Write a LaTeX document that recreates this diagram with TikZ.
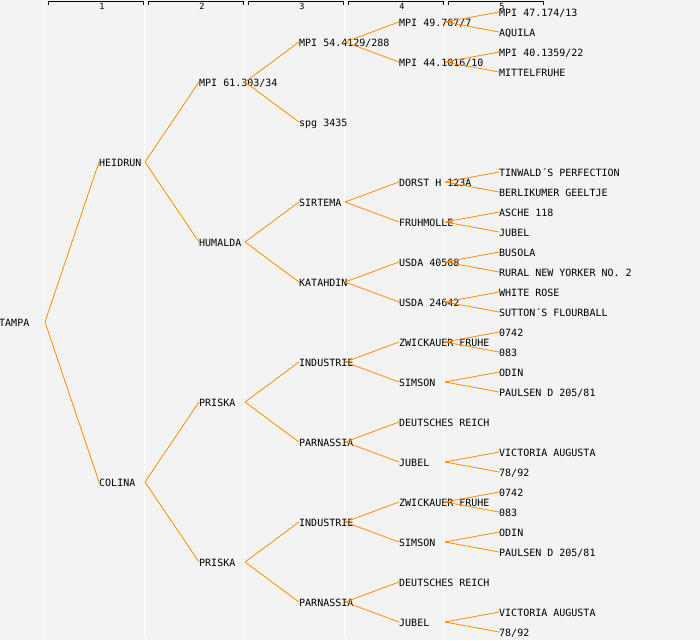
\documentclass[tikz,border=0pt]{standalone}
\usepackage{fontspec}
\setmonofont{DejaVu Sans Mono}
\usetikzlibrary{calc}
\definecolor{bgc}{HTML}{F3F3F3}
\definecolor{lnc}{HTML}{FF8C00}
\begin{document}
\begin{tikzpicture}[x=1pt,y=-1pt,
  tn/.style={anchor=west, inner sep=0pt, text height=8pt, text depth=0pt, font=\fontsize{10}{12}\selectfont\ttfamily},
  ed/.style={draw=lnc, line width=0.8pt},
  sep/.style={draw=white, line width=1.5pt},
  brk/.style={draw=black, line width=0.9pt},
  hdr/.style={inner sep=0pt, font=\fontsize{8.5}{9}\selectfont\ttfamily}]
\fill[bgc] (0,0) rectangle (700,640);
\useasboundingbox (0,0) rectangle (700,640);
% column separators
\foreach \x in {44.5,144.5,244.5,344.5,444.5} \draw[sep] (\x,0) -- (\x,637);
% ruler
\foreach \k in {0,...,4} {
  \pgfmathtruncatemacro{\lab}{\k+1}
  \draw[brk] (48+100*\k,5) -- (48+100*\k,1.5) -- (143+100*\k,1.5) -- (143+100*\k,5);
  \node[hdr] (h\lab) at (102+100*\k,6.3) {\lab};
}
% generation 0-1
\node[tn] (t0) at (-1,322) {TAMPA};
\node[tn] (a1) at (99,162) {HEIDRUN};
\node[tn] (b1) at (99,482) {COLINA};
% generation 2
\node[tn] (a2) at (199,82) {MPI 61.303/34};
\node[tn] (b2) at (199,242) {HUMALDA};
\node[tn] (c2) at (199,402) {PRISKA};
\node[tn] (d2) at (199,562) {PRISKA};
% generation 3
\node[tn] (a3) at (299,42) {MPI 54.4129/288};
\node[tn] (b3) at (299,122) {spg 3435};
\node[tn] (c3) at (299,202) {SIRTEMA};
\node[tn] (d3) at (299,282) {KATAHDIN};
\node[tn] (e3) at (299,362) {INDUSTRIE};
\node[tn] (f3) at (299,442) {PARNASSIA};
\node[tn] (g3) at (299,522) {INDUSTRIE};
\node[tn] (h3) at (299,602) {PARNASSIA};
% generation 4
\node[tn] (a4) at (399,22) {MPI 49.767/7};
\node[tn] (b4) at (399,62) {MPI 44.1016/10};
\node[tn] (c4) at (399,182) {DORST H 123A};
\node[tn] (d4) at (399,222) {FRUHMOLLE};
\node[tn] (e4) at (399,262) {USDA 40568};
\node[tn] (f4) at (399,302) {USDA 24642};
\node[tn] (g4) at (399,342) {ZWICKAUER FRUHE};
\node[tn] (h4) at (399,382) {SIMSON};
\node[tn] (i4) at (399,422) {DEUTSCHES REICH};
\node[tn] (j4) at (399,462) {JUBEL};
\node[tn] (k4) at (399,502) {ZWICKAUER FRUHE};
\node[tn] (l4) at (399,542) {SIMSON};
\node[tn] (m4) at (399,582) {DEUTSCHES REICH};
\node[tn] (n4) at (399,622) {JUBEL};
% generation 5
\node[tn] (a5) at (499,12) {MPI 47.174/13};
\node[tn] (b5) at (499,32) {AQUILA};
\node[tn] (c5) at (499,52) {MPI 40.1359/22};
\node[tn] (d5) at (499,72) {MITTELFRUHE};
\node[tn] (e5) at (499,172) {TINWALD´S PERFECTION};
\node[tn] (f5) at (499,192) {BERLIKUMER GEELTJE};
\node[tn] (g5) at (499,212) {ASCHE 118};
\node[tn] (h5) at (499,232) {JUBEL};
\node[tn] (i5) at (499,252) {BUSOLA};
\node[tn] (j5) at (499,272) {RURAL NEW YORKER NO. 2};
\node[tn] (k5) at (499,292) {WHITE ROSE};
\node[tn] (l5) at (499,312) {SUTTON´S FLOURBALL};
\node[tn] (m5) at (499,332) {0742};
\node[tn] (n5) at (499,352) {083};
\node[tn] (o5) at (499,372) {ODIN};
\node[tn] (p5) at (499,392) {PAULSEN D 205/81};
\node[tn] (q5) at (499,452) {VICTORIA AUGUSTA};
\node[tn] (r5) at (499,472) {78/92};
\node[tn] (s5) at (499,492) {0742};
\node[tn] (t5) at (499,512) {083};
\node[tn] (u5) at (499,532) {ODIN};
\node[tn] (v5) at (499,552) {PAULSEN D 205/81};
\node[tn] (w5) at (499,612) {VICTORIA AUGUSTA};
\node[tn] (x5) at (499,632) {78/92};
% connectors: parent fork point lies 46pt right of parent's west anchor
\foreach \p/\c in {t0/a1,t0/b1,
  a1/a2,a1/b2,b1/c2,b1/d2,
  a2/a3,a2/b3,b2/c3,b2/d3,c2/e3,c2/f3,d2/g3,d2/h3,
  a3/a4,a3/b4,c3/c4,c3/d4,d3/e4,d3/f4,e3/g4,e3/h4,f3/i4,f3/j4,g3/k4,g3/l4,h3/m4,h3/n4,
  a4/a5,a4/b5,b4/c5,b4/d5,c4/e5,c4/f5,d4/g5,d4/h5,e4/i5,e4/j5,f4/k5,f4/l5,
  g4/m5,g4/n5,h4/o5,h4/p5,j4/q5,j4/r5,k4/s5,k4/t5,l4/u5,l4/v5,n4/w5,n4/x5}
  \draw[ed] ($(\p.west)+(46,0)$) -- (\c.west);
\end{tikzpicture}
\end{document}
